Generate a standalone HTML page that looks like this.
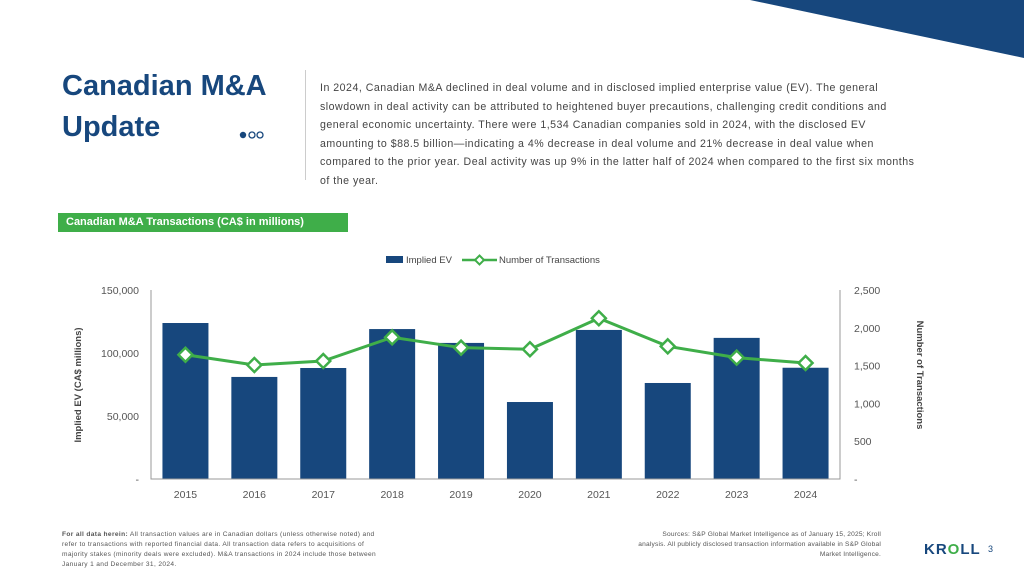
<!DOCTYPE html>
<html><head><meta charset="utf-8"><style>
body{margin:0;width:1024px;height:575px;overflow:hidden;background:#fff;font-family:"Liberation Sans",sans-serif;position:relative}
.abs{position:absolute}
</style></head><body>
<svg class="abs" style="left:0;top:0" width="1024" height="575"><polygon points="750,0 1024,0 1024,58" fill="#17477d"/></svg>
<div class="abs" style="left:62px;top:66px;font-size:29px;line-height:41px;font-weight:bold;color:#17477d">Canadian M&amp;A<br>Update</div>
<svg class="abs" style="left:238px;top:129px" width="28" height="12"><circle cx="5" cy="6" r="3.2" fill="#17477d"/><circle cx="14" cy="6" r="3" fill="none" stroke="#17477d" stroke-width="1.3"/><circle cx="22" cy="6" r="3" fill="none" stroke="#17477d" stroke-width="1.3"/></svg>
<div class="abs" style="left:305px;top:70px;width:1px;height:110px;background:#ccc"></div>
<div class="abs" style="left:320px;top:79px;width:600px;font-size:10.6px;line-height:18.6px;letter-spacing:0.5px;color:#444">In 2024, Canadian M&amp;A declined in deal volume and in disclosed implied enterprise value (EV). The general slowdown in deal activity can be attributed to heightened buyer precautions, challenging credit conditions and general economic uncertainty. There were 1,534 Canadian companies sold in 2024, with the disclosed EV amounting to $88.5 billion—indicating a 4% decrease in deal volume and 21% decrease in deal value when compared to the prior year. Deal activity was up 9% in the latter half of 2024 when compared to the first six months of the year.</div>
<div class="abs" style="left:58px;top:213px;width:290px;height:19px;background:#3fae49;color:#fff;font-size:11px;font-weight:bold;line-height:19px;padding-left:8px;box-sizing:border-box">Canadian M&amp;A Transactions (CA$ in millions)</div>
<svg id="chart" class="abs" style="left:0;top:0" width="1024" height="575"></svg>
<div class="abs" style="left:62px;top:530px;width:322px;font-size:6.6px;line-height:10px;letter-spacing:0.35px;color:#555"><b>For all data herein:</b> All transaction values are in Canadian dollars (unless otherwise noted) and refer to transactions with reported financial data. All transaction data refers to acquisitions of majority stakes (minority deals were excluded). M&amp;A transactions in 2024 include those between January 1 and December 31, 2024.</div>
<div class="abs" style="left:636px;top:530px;width:245px;text-align:right;font-size:6.6px;line-height:10px;letter-spacing:0.2px;color:#555">Sources: S&amp;P Global Market Intelligence as of January 15, 2025; Kroll analysis. All publicly disclosed transaction information available in S&amp;P Global Market Intelligence.</div>
<div class="abs" style="left:924px;top:541px;font-size:15px;font-weight:bold;letter-spacing:1px;color:#17477d">KR<span style="color:#3fae49">O</span>LL</div>
<div class="abs" style="left:988px;top:544px;font-size:9px;color:#17477d">3</div>
<script>
const years=["2015","2016","2017","2018","2019","2020","2021","2022","2023","2024"];
const evValues=[123800,81000,88100,119000,108000,61100,118300,76200,112000,88300];
const txValues=[1644,1508,1561,1874,1737,1716,2126,1755,1605,1534];
const leftTicks=[0,50000,100000,150000];
const leftTickLabels=["-","50,000","100,000","150,000"];
const rightTicks=[0,500,1000,1500,2000,2500];
const rightTickLabels=["-","500","1,000","1,500","2,000","2,500"];
const NS="http://www.w3.org/2000/svg";
const svg=document.getElementById('chart');
const X0=151,X1=840,YB=479,YT=290;
const band=(X1-X0)/years.length;
const xc=i=>X0+band*(i+0.5);
const yL=v=>YB-(v/150000)*(YB-YT);
const yR=v=>YB-(v/2500)*(YB-YT);
function mk(t,a,p){const e=document.createElementNS(NS,t);for(const k in a)e.setAttribute(k,a[k]);(p||svg).appendChild(e);return e;}
function txt(s,a){const e=mk('text',Object.assign({'font-family':'Liberation Sans, sans-serif','font-size':'10.5',fill:'#555'},a));e.textContent=s;return e;}
evValues.forEach((v,i)=>{const r=mk('rect',{x:xc(i)-23,y:yL(v),width:46,height:YB-yL(v),fill:'#17477d'});

});
const ax=mk('path',{d:`M${X0},${YT} V${YB} H${X1} V${YT}`,fill:'none',stroke:'#999','stroke-width':1});


leftTicks.forEach((t,i)=>{const e=txt(leftTickLabels[i],{x:X0-12,y:yL(t)+4,'text-anchor':'end'});

});
rightTicks.forEach((t,i)=>{const e=txt(rightTickLabels[i],{x:X1+14,y:yR(t)+4});

});
years.forEach((y,i)=>{const e=txt(y,{x:xc(i),y:YB+19,'text-anchor':'middle'});

});
const pl=mk('polyline',{points:txValues.map((v,i)=>xc(i)+','+yR(v)).join(' '),fill:'none',stroke:'#3fae49','stroke-width':3});


txValues.forEach((v,i)=>{const x=xc(i),y=yR(v);const d=mk('polygon',{points:`${x},${y-7} ${x+7},${y} ${x},${y+7} ${x-7},${y}`,fill:'#fff',stroke:'#3fae49','stroke-width':2.5});

});
const yt=txt('Implied EV (CA$ millions)',{x:0,y:0,'font-size':'9.5','font-weight':'bold',fill:'#444',transform:'translate(81,385) rotate(-90)','text-anchor':'middle'});


const yt2=txt('Number of Transactions',{x:0,y:0,'font-size':'9.5','font-weight':'bold',fill:'#444',transform:'translate(917,375) rotate(90)','text-anchor':'middle'});


const lg=mk('g',{});


mk('rect',{x:386,y:256,width:17,height:7,fill:'#17477d'},lg);
const l1=txt('Implied EV',{x:406,y:263,'font-size':'9.5',fill:'#444'});lg.appendChild(l1);
mk('line',{x1:462,y1:260,x2:497,y2:260,stroke:'#3fae49','stroke-width':2.5},lg);
mk('polygon',{points:'479.5,255.5 484,260 479.5,264.5 475,260',fill:'#fff',stroke:'#3fae49','stroke-width':2},lg);
const l2=txt('Number of Transactions',{x:499,y:263,'font-size':'9.5',fill:'#444'});lg.appendChild(l2);
</script>
</body></html>
